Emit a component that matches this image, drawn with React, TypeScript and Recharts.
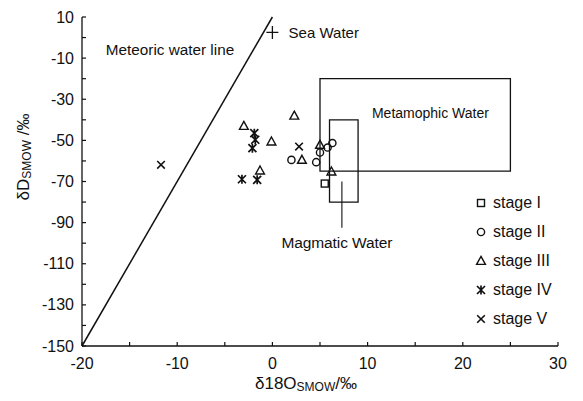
import React from 'react';
import {
  ScatterChart,
  Scatter,
  XAxis,
  YAxis,
  ReferenceLine,
  ReferenceArea,
  ReferenceDot,
  Legend,
} from 'recharts';

const FONT = '"Liberation Sans", Arial, Helvetica, sans-serif';
const INK = '#111';

// δ18O(SMOW, ‰) and δD(SMOW, ‰) of fluid inclusions, by mineralization stage
const stageNames = ['stage I', 'stage II', 'stage III', 'stage IV', 'stage V'];

const stage1O = [5.5];
const stage1D = [-71];

const stage2O = [2.0, 4.6, 5.0, 5.8, 6.3];
const stage2D = [-59.5, -60.6, -55.9, -53.5, -51.3];

const stage3O = [2.3, -3.0, -0.1, 3.1, -1.3, 5.0, 6.2];
const stage3D = [-38, -43, -50.6, -59.5, -64.7, -52.2, -65.2];

const stage4O = [-1.9, -1.8, -2.1, -3.2, -1.6];
const stage4D = [-46.5, -49.7, -53.8, -68.9, -69.2];

const stage5O = [-11.7, 2.8];
const stage5D = [-61.9, -53];

// Reference waters
const seaWater = { o: 0, d: 2.5 };
const meteoricLine = [
  { x: -20, y: -150 },
  { x: 0, y: 10 },
];
const metamorphicBox = { o1: 5, o2: 25, d1: -65, d2: -20 };
const magmaticBox = { o1: 6, o2: 9, d1: -80, d2: -40 };
const magmaticPointer = [
  { x: 7.3, y: -70 },
  { x: 7.3, y: -92.5 },
];

// Annotation anchors (data coordinates)
const meteoricNote = { text: 'Meteoric water line', o: -17.5, d: -5.9 };
const seaNote = { text: 'Sea Water', o: 1.7, d: 2.4 };
const metamorphicNote = { text: 'Metamophic Water', o: 16.6, d: -36.6 };
const magmaticNote = { text: 'Magmatic Water', o: 0.95, d: -99.5 };

// Axis ticks
const xTicks = [-20, -15, -10, -5, 0, 5, 10, 15, 20, 25, 30];
const yTicks = [10, 0, -10, -20, -30, -40, -50, -60, -70, -80, -90, -100, -110, -120, -130, -140, -150];

const toPoints = (os: number[], ds: number[]) => os.map((o, i) => ({ o, d: ds[i] }));

const series = [
  toPoints(stage1O, stage1D),
  toPoints(stage2O, stage2D),
  toPoints(stage3O, stage3D),
  toPoints(stage4O, stage4D),
  toPoints(stage5O, stage5D),
];

type Kind = 'square' | 'circle' | 'triangle' | 'asterisk' | 'cross';
const kinds: Kind[] = ['square', 'circle', 'triangle', 'asterisk', 'cross'];

function Marker({ kind, cx, cy }: { kind: Kind; cx: number; cy: number }) {
  const s = { fill: 'none', stroke: INK, strokeWidth: 1.4 };
  switch (kind) {
    case 'square':
      return <rect x={cx - 3.5} y={cy - 3.5} width={7} height={7} {...s} />;
    case 'circle':
      return <circle cx={cx} cy={cy} r={3.6} {...s} />;
    case 'triangle':
      return (
        <path
          d={`M${cx},${cy - 4.6}L${cx + 4.4},${cy + 3.4}L${cx - 4.4},${cy + 3.4}Z`}
          {...s}
          strokeLinejoin="miter"
        />
      );
    case 'asterisk':
      return (
        <path
          d={`M${cx - 4},${cy - 4}L${cx + 4},${cy + 4}M${cx + 4},${cy - 4}L${cx - 4},${cy + 4}M${cx},${cy - 4.5}L${cx},${cy + 4.5}`}
          {...s}
          strokeWidth={1.7}
        />
      );
    default:
      return (
        <path
          d={`M${cx - 3.8},${cy - 3.8}L${cx + 3.8},${cy + 3.8}M${cx + 3.8},${cy - 3.8}L${cx - 3.8},${cy + 3.8}`}
          {...s}
          strokeWidth={1.6}
        />
      );
  }
}

const makeShape = (kind: Kind) => (p: any) => <Marker kind={kind} cx={p.cx} cy={p.cy} />;

const XTick = (p: any) => {
  const v = p.payload.value as number;
  return (
    <g>
      <line x1={p.x} x2={p.x} y1={p.y} y2={p.y - 4} stroke={INK} strokeWidth={1.2} />
      {v % 10 === 0 && (
        <text
          x={p.x}
          y={p.y + 17}
          textAnchor="middle"
          dominantBaseline="central"
          fontSize={16}
          fontFamily={FONT}
          fill={INK}
        >
          {v}
        </text>
      )}
    </g>
  );
};

const YTick = (p: any) => {
  const v = p.payload.value as number;
  return (
    <g>
      <line x1={p.x} x2={p.x + 4} y1={p.y} y2={p.y} stroke={INK} strokeWidth={1.2} />
      {(v - 10) % 20 === 0 && (
        <text
          x={p.x - 8}
          y={p.y}
          textAnchor="end"
          dominantBaseline="central"
          fontSize={16}
          fontFamily={FONT}
          fill={INK}
        >
          {v}
        </text>
      )}
    </g>
  );
};

const XTitle = () => (
  <text x={306} y={383} textAnchor="middle" dominantBaseline="central" fontFamily={FONT} fill={INK} fontSize={17}>
    <tspan>δ18O</tspan>
    <tspan fontSize={12} dy={4}>SMOW</tspan>
    <tspan dy={-4}>/‰</tspan>
  </text>
);

const YTitle = () => (
  <text
    x={23}
    y={157}
    transform="rotate(-90 23 157)"
    textAnchor="middle"
    dominantBaseline="central"
    fontFamily={FONT}
    fill={INK}
    fontSize={17}
  >
    <tspan>δD</tspan>
    <tspan fontSize={12} dy={4}>SMOW</tspan>
    <tspan dy={-4}> /‰</tspan>
  </text>
);

const noteShape = (text: string, anchor: 'start' | 'middle', size: number, spacing = 0) => (p: any) => (
  <text
    x={p.cx}
    y={p.cy}
    textAnchor={anchor}
    dominantBaseline="central"
    fontFamily={FONT}
    fontSize={size}
    letterSpacing={spacing}
    fill={INK}
  >
    {text}
  </text>
);

const plusShape = (p: any) => (
  <path
    d={`M${p.cx - 6},${p.cy}L${p.cx + 6},${p.cy}M${p.cx},${p.cy - 6.5}L${p.cx},${p.cy + 6.5}`}
    stroke={INK}
    strokeWidth={1.3}
    fill="none"
  />
);

const renderLegend = (props: any) => {
  const items = (props.payload || []) as any[];
  return (
    <div style={{ fontFamily: FONT, fontSize: 16, color: INK }}>
      {items.map((it) => {
        const idx = stageNames.indexOf(it.value);
        return (
          <div key={it.value} style={{ height: 29, display: 'flex', alignItems: 'center' }}>
            <svg width={14} height={14} style={{ display: 'block' }}>
              <Marker kind={kinds[idx]} cx={7} cy={7} />
            </svg>
            <span style={{ marginLeft: 5, lineHeight: '16px' }}>{it.value}</span>
          </div>
        );
      })}
    </div>
  );
};

export default function App() {
  return (
    <div style={{ position: 'absolute', left: 0, top: 0, background: '#fff' }}>
      <ScatterChart width={583} height={401} margin={{ top: 17, right: 25, bottom: 0, left: 32 }}>
        <XAxis
          type="number"
          dataKey="o"
          domain={[-20, 30]}
          ticks={xTicks}
          interval={0}
          height={55}
          tickSize={0}
          tickMargin={0}
          tickLine={false}
          axisLine={{ stroke: INK, strokeWidth: 1.3 }}
          tick={<XTick />}
          label={{ content: () => <XTitle /> }}
        />
        <YAxis
          type="number"
          dataKey="d"
          domain={[-150, 10]}
          ticks={yTicks}
          interval={0}
          width={50}
          tickSize={0}
          tickMargin={0}
          tickLine={false}
          axisLine={{ stroke: INK, strokeWidth: 1.3 }}
          tick={<YTick />}
          label={{ content: () => <YTitle /> }}
        />

        <ReferenceArea
          x1={metamorphicBox.o1}
          x2={metamorphicBox.o2}
          y1={metamorphicBox.d1}
          y2={metamorphicBox.d2}
          fill="none"
          stroke={INK}
          strokeWidth={1.3}
          ifOverflow="visible"
        />
        <ReferenceArea
          x1={magmaticBox.o1}
          x2={magmaticBox.o2}
          y1={magmaticBox.d1}
          y2={magmaticBox.d2}
          fill="none"
          stroke={INK}
          strokeWidth={1.3}
          ifOverflow="visible"
        />
        <ReferenceLine segment={meteoricLine} stroke={INK} strokeWidth={1.5} ifOverflow="visible" />
        <ReferenceLine segment={magmaticPointer} stroke={INK} strokeWidth={1.1} ifOverflow="visible" />

        <ReferenceDot x={seaWater.o} y={seaWater.d} r={6} shape={plusShape} ifOverflow="visible" />
        <ReferenceDot x={meteoricNote.o} y={meteoricNote.d} r={0} shape={noteShape(meteoricNote.text, 'start', 15.3)} ifOverflow="visible" />
        <ReferenceDot x={seaNote.o} y={seaNote.d} r={0} shape={noteShape(seaNote.text, 'start', 15)} ifOverflow="visible" />
        <ReferenceDot x={metamorphicNote.o} y={metamorphicNote.d} r={0} shape={noteShape(metamorphicNote.text, 'middle', 14)} ifOverflow="visible" />
        <ReferenceDot x={magmaticNote.o} y={magmaticNote.d} r={0} shape={noteShape(magmaticNote.text, 'start', 15.5, -0.1)} ifOverflow="visible" />

        {series.map((data, i) => (
          <Scatter
            key={stageNames[i]}
            name={stageNames[i]}
            data={data}
            fill={INK}
            shape={makeShape(kinds[i])}
            isAnimationActive={false}
          />
        ))}

        <Legend
          layout="horizontal"
          verticalAlign="middle"
          align="center"
          width={110}
          content={renderLegend}
          wrapperStyle={{ left: 474, top: 188, width: 110 }}
        />
      </ScatterChart>
    </div>
  );
}
